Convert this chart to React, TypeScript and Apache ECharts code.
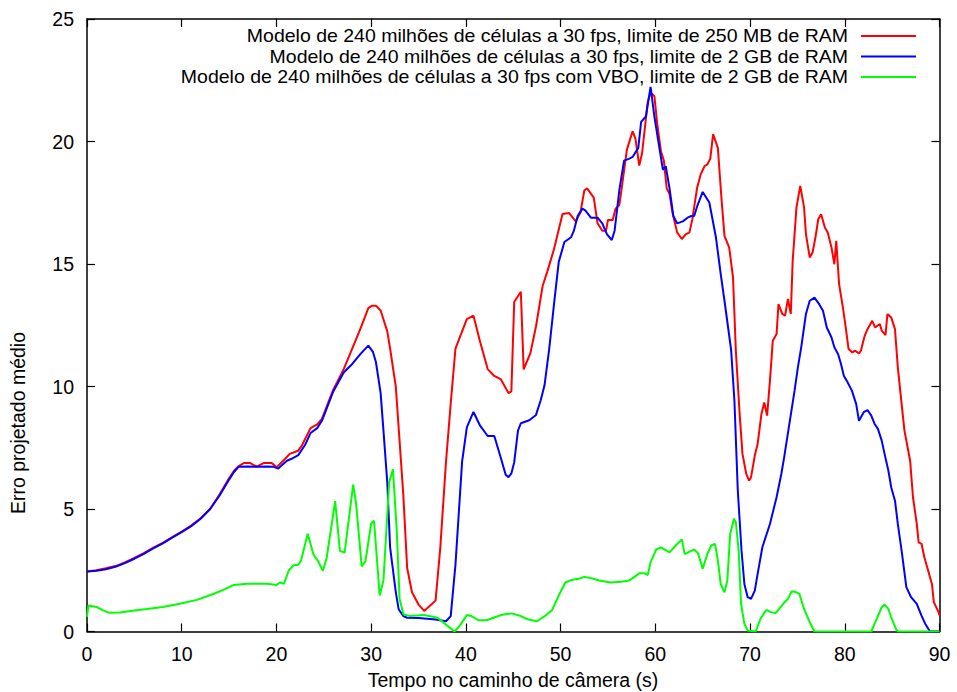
import React, { useEffect, useRef } from "react";
import * as echarts from "echarts";

// Camera-path error curves: [time (s), mean projected error]
const seriesNames = [
  "Modelo de 240 milhões de células a 30 fps, limite de 250 MB de RAM",
  "Modelo de 240 milhões de células a 30 fps, limite de 2 GB de RAM",
  "Modelo de 240 milhões de células a 30 fps com VBO, limite de 2 GB de RAM",
];
const seriesColors = ["#ff0000", "#0000ff", "#00ff00"];

const ram250: [number, number][] = [
  [0, 2.45], [1, 2.5], [2, 2.58], [3, 2.67], [4, 2.82], [5, 3.0], [6, 3.2], [7, 3.42], [8, 3.62],
  [9, 3.85], [10, 4.08], [11, 4.32], [12, 4.62], [13, 5.0], [14, 5.6], [15, 6.25], [15.5, 6.55],
  [16, 6.75], [16.6, 6.88], [17.2, 6.88], [17.9, 6.73], [18.7, 6.88], [19.5, 6.88], [20, 6.7],
  [20.8, 7.0], [21.4, 7.25], [22.3, 7.38], [22.7, 7.6], [23.6, 8.3], [24.3, 8.45], [24.8, 8.68],
  [26.0, 9.87], [27.1, 10.71], [28.0, 11.55], [28.9, 12.39], [29.7, 13.2], [30.1, 13.3], [30.5, 13.3],
  [31.0, 13.1], [31.7, 12.25], [32.0, 11.55], [32.6, 10.0], [32.9, 8.33], [33.4, 5.53], [33.8, 2.59],
  [34.3, 1.61], [35.0, 1.1], [35.6, 0.84], [36.2, 1.05], [36.8, 1.26], [37.3, 3.43], [37.9, 6.93],
  [38.4, 9.31], [38.9, 11.55], [39.6, 12.25], [40.1, 12.75], [40.8, 12.89], [41.5, 11.83],
  [42.3, 10.71], [43.0, 10.43], [43.7, 10.29], [44.5, 9.73], [44.8, 9.8], [45.1, 13.45],
  [45.8, 13.87], [46.1, 10.7], [46.8, 11.35], [47.4, 12.45], [48.1, 14.1], [48.6, 14.7],
  [49.3, 15.6], [50.2, 17.04], [50.9, 17.08], [51.6, 16.74], [52.1, 17.11], [52.5, 18.0],
  [52.8, 18.09], [53.5, 17.71], [53.9, 16.66], [54.4, 16.36], [54.8, 16.36], [55.0, 16.8],
  [55.5, 16.8], [55.8, 17.26], [56.2, 17.41], [56.5, 18.24], [57.0, 19.67], [57.6, 20.42],
  [57.9, 20.12], [58.3, 19.02], [58.6, 19.52], [59.2, 21.62], [59.5, 22.0], [59.9, 21.85],
  [60.2, 20.72], [60.6, 19.59], [60.9, 19.22], [61.2, 18.09], [61.5, 17.86], [61.8, 17.11],
  [62.3, 16.29], [62.8, 16.02], [63.2, 16.21], [63.6, 16.29], [63.9, 16.81], [64.4, 18.09],
  [64.8, 18.67], [65.2, 19.0], [65.5, 19.07], [65.8, 19.3], [66.1, 20.3], [66.6, 19.74],
  [67.0, 17.58], [67.3, 16.15], [67.8, 15.67], [68.2, 14.45], [68.5, 11.46], [68.9, 8.88],
  [69.2, 7.25], [69.6, 6.43], [69.9, 6.16], [70.1, 6.29], [70.5, 7.18], [70.8, 7.65], [71.2, 8.88],
  [71.5, 9.35], [71.8, 8.81], [72.1, 10.24], [72.4, 11.87], [72.8, 12.14], [73.0, 13.36],
  [73.4, 12.96], [73.7, 12.89], [74.0, 13.57], [74.3, 12.96], [74.5, 15.13], [74.9, 17.31],
  [75.3, 18.19], [75.7, 17.31], [75.9, 16.22], [76.3, 15.27], [76.6, 15.47], [76.9, 16.08],
  [77.2, 16.83], [77.5, 17.03], [77.9, 16.49], [78.2, 16.29], [78.6, 15.67], [78.9, 14.99],
  [79.1, 15.95], [79.4, 14.18], [79.8, 13.23], [80.1, 12.41], [80.4, 11.53], [80.8, 11.39],
  [81.1, 11.46], [81.5, 11.35], [81.7, 11.46], [82.1, 12.07], [82.4, 12.34], [82.9, 12.68],
  [83.2, 12.41], [83.7, 12.55], [83.9, 12.28], [84.3, 12.1], [84.5, 12.96], [84.9, 12.82],
  [85.3, 12.34], [85.6, 10.78], [86.0, 9.29], [86.3, 8.2], [86.9, 6.97], [87.2, 5.48],
  [87.6, 4.39], [87.8, 3.64], [88.1, 3.58], [88.4, 3.03], [88.8, 2.49], [89.2, 1.94],
  [89.4, 1.2], [89.9, 0.79], [90, 0.65],
];

const ram2gb: [number, number][] = [
  [0, 2.45], [1, 2.48], [2, 2.54], [3, 2.64], [4, 2.79], [5, 2.97], [6, 3.17], [7, 3.39], [8, 3.6],
  [9, 3.83], [10, 4.06], [11, 4.3], [12, 4.6], [13, 5.0], [14, 5.55], [15, 6.2], [15.5, 6.5],
  [16, 6.72], [17, 6.73], [18, 6.72], [19, 6.73], [19.7, 6.72], [20.2, 6.65], [20.6, 6.8],
  [21.1, 6.97], [21.6, 7.05], [22.3, 7.2], [23.0, 7.6], [23.6, 8.1], [24.3, 8.3], [24.8, 8.6],
  [26.0, 9.8], [27.1, 10.57], [28.0, 10.92], [28.9, 11.34], [29.7, 11.67], [30.2, 11.4],
  [30.5, 11.0], [31.0, 9.73], [31.3, 8.19], [31.7, 6.09], [32.0, 3.43], [32.6, 1.61], [32.9, 0.91],
  [33.4, 0.63], [33.8, 0.56], [35.0, 0.55], [36.8, 0.49], [37.9, 0.42], [38.4, 0.63], [38.9, 2.73],
  [39.6, 6.93], [40.1, 8.33], [40.8, 8.96], [41.5, 8.4], [42.3, 7.98], [43.0, 7.98], [43.7, 7.07],
  [44.2, 6.4], [44.5, 6.3], [44.8, 6.45], [45.1, 6.9], [45.5, 8.2], [45.8, 8.5], [46.1, 8.54],
  [46.7, 8.62], [47.4, 8.84], [47.9, 9.44], [48.3, 10.05], [48.8, 11.55], [49.3, 13.35],
  [49.8, 15.08], [50.4, 15.9], [51.1, 16.09], [51.4, 16.36], [51.8, 16.96], [52.3, 17.26],
  [52.6, 17.19], [53.2, 16.89], [53.9, 16.89], [54.4, 16.66], [54.9, 16.21], [55.4, 15.98],
  [55.7, 16.36], [56.2, 18.02], [56.7, 19.22], [57.2, 19.29], [57.6, 19.37], [58.2, 19.74],
  [58.5, 20.8], [59.0, 21.02], [59.5, 22.23], [59.9, 21.02], [60.3, 20.05], [60.8, 18.84],
  [61.1, 18.99], [61.5, 18.09], [61.9, 16.96], [62.3, 16.66], [62.9, 16.74], [63.4, 16.89],
  [63.8, 16.96], [64.1, 16.96], [64.4, 17.34], [65.0, 17.94], [65.7, 17.51], [66.4, 16.08],
  [66.9, 14.6], [67.3, 13.5], [68.0, 11.5], [68.35, 9.42], [68.7, 5.8], [69.1, 3.3], [69.4, 1.94],
  [69.75, 1.4], [70.1, 1.33], [70.5, 1.67], [70.8, 2.35], [71.3, 3.44], [72.1, 4.39], [72.8, 5.48],
  [73.3, 6.43], [73.6, 7.11], [74.2, 8.6], [74.7, 9.83], [75.05, 10.78], [75.4, 11.6],
  [75.9, 12.96], [76.3, 13.5], [76.8, 13.63], [77.3, 13.36], [77.7, 13.09], [78.1, 12.41],
  [78.6, 12.0], [78.9, 11.6], [79.3, 11.32], [79.6, 10.92], [79.9, 10.44], [80.3, 10.17],
  [80.75, 9.83], [81.2, 9.29], [81.5, 8.6], [82.0, 8.95], [82.4, 9.04], [82.8, 8.81],
  [83.15, 8.47], [83.5, 8.27], [83.9, 7.79], [84.2, 7.25], [84.6, 6.57], [84.9, 5.89],
  [85.3, 5.34], [85.6, 4.39], [86.0, 3.3], [86.5, 1.81], [87.0, 1.4], [87.6, 1.13], [88.1, 0.65],
  [88.5, 0.31], [89.0, 0], [90, 0],
];

const vbo2gb: [number, number][] = [
  [0, 0.6], [0.15, 1.06], [1.0, 1.0], [1.7, 0.86], [2.3, 0.77], [3.5, 0.78], [5, 0.86],
  [6.3, 0.92], [8, 1.0], [9.8, 1.13], [11.6, 1.29], [13.4, 1.54], [14.5, 1.72], [15.5, 1.9],
  [16.9, 1.95], [19.0, 1.95], [20.0, 1.9], [20.4, 2.0], [20.8, 1.95], [21.3, 2.49], [21.8, 2.7],
  [22.3, 2.72], [22.6, 2.9], [23.3, 3.99], [23.9, 3.15], [24.4, 2.87], [24.9, 2.48], [25.3, 3.0],
  [26.2, 5.32], [26.7, 3.29], [27.2, 3.22], [28.1, 6.0], [28.4, 5.25], [29.0, 2.66], [29.4, 2.87],
  [30.0, 4.41], [30.3, 4.52], [30.9, 1.47], [31.3, 2.1], [31.9, 6.09], [32.3, 6.62], [32.7, 4.13],
  [33.0, 1.33], [33.4, 0.7], [34.1, 0.63], [35.6, 0.67], [37.0, 0.56], [37.9, 0.28], [38.8, 0],
  [39.3, 0.21], [40.1, 0.67], [40.6, 0.63], [41.3, 0.46], [42.2, 0.46], [42.9, 0.56], [43.7, 0.67],
  [44.8, 0.74], [45.8, 0.63], [46.5, 0.5], [47.5, 0.42], [48.4, 0.65], [49.1, 0.87], [49.8, 1.47],
  [50.5, 2.0], [51.1, 2.1], [51.9, 2.15], [52.5, 2.23], [53.2, 2.18], [54.1, 2.08], [55.3, 2.0],
  [56.4, 2.03], [57.2, 2.08], [57.8, 2.23], [58.3, 2.38], [58.8, 2.38], [59.2, 2.3], [59.5, 2.83],
  [60.1, 3.35], [60.6, 3.43], [61.5, 3.23], [62.2, 3.53], [62.8, 3.76], [63.1, 3.16], [64.1, 3.35],
  [64.5, 3.2], [65.0, 2.56], [65.5, 3.17], [65.9, 3.51], [66.3, 3.58], [66.6, 2.9], [66.9, 1.94],
  [67.3, 1.6], [67.6, 2.08], [67.9, 3.98], [68.3, 4.6], [68.5, 4.46], [68.8, 3.3], [69.05, 1.13],
  [69.4, 0.31], [69.75, 0.04], [70.6, 0], [71.1, 0.52], [71.7, 0.88], [72.2, 0.79], [72.7, 0.75],
  [73.5, 1.13], [74.0, 1.33], [74.4, 1.64], [74.9, 1.6], [75.2, 1.54], [75.7, 0.92], [76.3, 0.38],
  [76.8, 0], [82.8, 0], [83.3, 0.45], [83.9, 0.99], [84.2, 1.1], [84.6, 0.92], [84.9, 0.58],
  [85.4, 0.11], [85.6, 0], [90, 0],
];

const seriesData = [ram250, ram2gb, vbo2gb];

const xTitle = "Tempo no caminho de câmera (s)";
const yTitle = "Erro projetado médio";
const xMin = 0, xMax = 90, xStep = 10;
const yMin = 0, yMax = 25, yStep = 5;

const FONT = '"Liberation Sans", Arial, Helvetica, sans-serif';
const FS = 19.5;
// Key text is set a little smaller and widened so its three close rows stay clear of each other
const KEY_FS = 17.5;
const KEY_STRETCH = FS / KEY_FS;

export default function App() {
  const ref = useRef<HTMLDivElement>(null);

  useEffect(() => {
    if (!ref.current) return;
    const chart = echarts.init(ref.current, undefined, { renderer: "svg" });

    const axisLine = { show: true, onZero: false, lineStyle: { color: "#000", width: 1.5 } };
    const tick = { show: true, inside: true, length: 8, lineStyle: { color: "#000", width: 1.2 } };
    const label = { color: "#000", fontSize: FS, fontFamily: FONT };

    // Key: right-aligned names followed by a short sample of each line
    const legendRows = [36, 56.5, 77];
    const legendGraphics: any[] = [];
    seriesNames.forEach((name, i) => {
      legendGraphics.push({
        type: "text",
        x: 848,
        y: legendRows[i],
        scaleX: KEY_STRETCH,
        style: {
          text: name,
          align: "right",
          verticalAlign: "middle",
          fontSize: KEY_FS,
          lineHeight: 18,
          fontFamily: FONT,
          fill: "#000",
        },
      });
      legendGraphics.push({
        type: "line",
        shape: { x1: 861, y1: legendRows[i], x2: 916, y2: legendRows[i] },
        style: { stroke: seriesColors[i], lineWidth: 2 },
      });
    });

    chart.setOption({
      animation: false,
      backgroundColor: "#fff",
      textStyle: { fontFamily: FONT },
      grid: { left: 87, right: 17.5, top: 19, bottom: 60.5, containLabel: false },
      xAxis: [
        {
          type: "value", position: "bottom", min: xMin, max: xMax, interval: xStep,
          axisLine, axisTick: tick, splitLine: { show: false },
          axisLabel: { ...label, margin: 12 },
        },
        {
          type: "value", position: "top", min: xMin, max: xMax, interval: xStep,
          axisLine, axisTick: tick, splitLine: { show: false }, axisLabel: { show: false },
        },
      ],
      yAxis: [
        {
          type: "value", position: "left", min: yMin, max: yMax, interval: yStep,
          axisLine, axisTick: tick, splitLine: { show: false },
          axisLabel: { ...label, margin: 13 },
        },
        {
          type: "value", position: "right", min: yMin, max: yMax, interval: yStep,
          axisLine, axisTick: tick, splitLine: { show: false }, axisLabel: { show: false },
        },
      ],
      series: seriesData.map((data, i) => ({
        name: seriesNames[i],
        type: "line",
        xAxisIndex: 0,
        yAxisIndex: 0,
        data,
        symbol: "none",
        showSymbol: false,
        smooth: false,
        lineStyle: { color: seriesColors[i], width: 2 },
        itemStyle: { color: seriesColors[i] },
        z: 2 + i,
      })),
      graphic: [
        {
          type: "text",
          x: 513,
          y: 680,
          style: {
            text: xTitle, align: "center", verticalAlign: "middle",
            fontSize: FS, fontFamily: FONT, fill: "#000",
          },
        },
        {
          type: "text",
          x: 18,
          y: 423,
          rotation: Math.PI / 2,
          style: {
            text: yTitle, align: "center", verticalAlign: "middle",
            fontSize: FS, fontFamily: FONT, fill: "#000",
          },
        },
        ...legendGraphics,
      ],
    });

    return () => chart.dispose();
  }, []);

  return (
    <div
      ref={ref}
      style={{ position: "fixed", left: 0, top: 0, width: 957, height: 692, background: "#fff" }}
    />
  );
}
